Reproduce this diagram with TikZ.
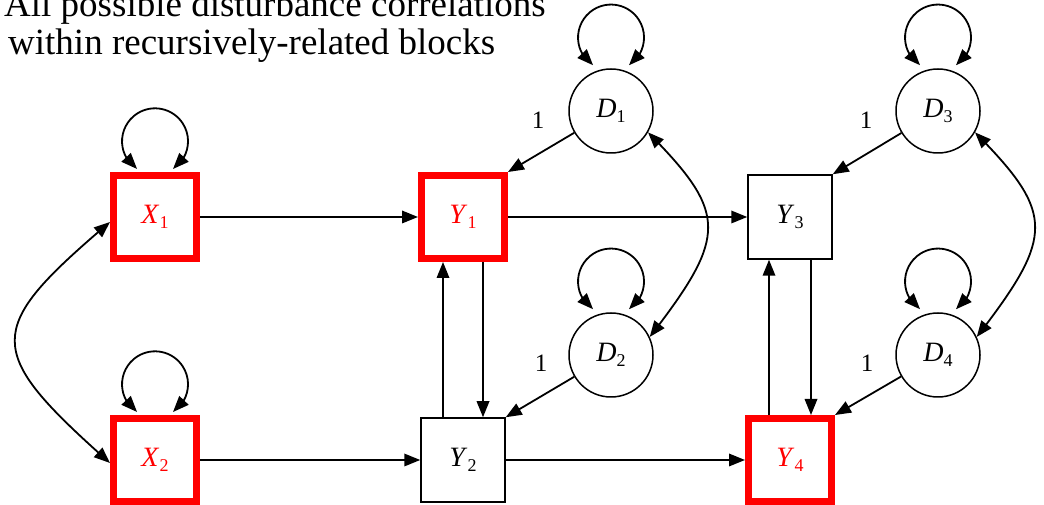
\documentclass[tikz,border=0pt]{standalone}
\usepackage{fontspec}
\setmainfont{Liberation Serif}
\usetikzlibrary{arrows.meta,bending}
\newcommand\vlab[2]{\fontsize{28pt}{28pt}\selectfont\textit{#1}\raisebox{-5pt}{\fontsize{18pt}{18pt}\selectfont #2}}
\tikzset{
  redbox/.style={draw=red, line width=7pt, minimum size=83pt, inner sep=0pt, text=red},
  blackbox/.style={draw=black, line width=1.5pt, minimum size=84pt, inner sep=0pt},
  dist/.style={draw=black, circle, line width=1.5pt, minimum size=84pt, inner sep=0pt},
  tip/.tip={Triangle[length=16pt,width=12.5pt]},
  conn/.style={line width=1.8pt, -tip},
  biconn/.style={line width=1.8pt, tip-tip},
  numlab/.style={inner sep=0pt, font=\fontsize{25pt}{25pt}\selectfont},
  titlelab/.style={anchor=base west, inner sep=0pt, font=\fontsize{37pt}{38pt}\selectfont},
}
\begin{document}
\begin{tikzpicture}[x=1pt,y=1pt]
\useasboundingbox (0,0) rectangle (1044,505);
% title
\node[titlelab] (t1) at (4,488) {All possible disturbance correlations};
\node[titlelab] (t2) at (8,450) {within recursively-related blocks};
% nodes
\node[redbox] (X1) at (155,288) {\vlab{X}{1}};
\node[redbox] (X2) at (155,45) {\vlab{X}{2}};
\node[redbox] (Y1) at (463,288) {\vlab{Y}{1}};
\node[blackbox] (Y2) at (463,45) {\vlab{Y}{2}};
\node[blackbox] (Y3) at (790,288) {\vlab{Y}{3}};
\node[redbox] (Y4) at (790,45) {\vlab{Y}{4}};
\node[dist] (D1) at (611,394) {\vlab{D}{1}};
\node[dist] (D2) at (611,150) {\vlab{D}{2}};
\node[dist] (D3) at (938,394) {\vlab{D}{3}};
\node[dist] (D4) at (938,150) {\vlab{D}{4}};
% coefficient labels
\node[numlab] (l1) at (538,385) {1};
\node[numlab] (l2) at (541,142) {1};
\node[numlab] (l3) at (866,385) {1};
\node[numlab] (l4) at (867,142) {1};
% self loops
\foreach \n in {X1,X2,D1,D2,D3,D4}{
  \draw[biconn] ([shift={(18pt,3pt)}]\n.north) arc[start angle=-57,end angle=237,radius=33pt];
}
% structural paths
\draw[conn] (X1) -- (Y1);
\draw[conn] (Y1) -- (Y3);
\draw[conn] (X2) -- (Y2);
\draw[conn] (Y2) -- (Y4);
\draw[conn] ([xshift=20pt]Y1.south) -- ([xshift=20pt]Y2.north);
\draw[conn] ([xshift=-20pt]Y2.north) -- ([xshift=-20pt]Y1.south);
\draw[conn] ([xshift=21pt]Y3.south) -- ([xshift=21pt]Y4.north);
\draw[conn] ([xshift=-21pt]Y4.north) -- ([xshift=-21pt]Y3.south);
\draw[conn] (D1) -- (Y1.north east);
\draw[conn] (D2) -- (Y2.north east);
\draw[conn] (D3) -- (Y3.north east);
\draw[conn] (D4) -- (Y4.north east);
% correlations
\draw[biconn] ([yshift=-5pt]X1.west) .. controls +(-127,-108) and +(-127,113) .. ([yshift=-3pt]X2.west);
\draw[biconn] (D1.-30) .. controls +(80,-81) and +(78,101) .. (D2.25);
\draw[biconn] (D3.-30) .. controls +(80,-81) and +(78,101) .. (D4.25);
\end{tikzpicture}
\end{document}
